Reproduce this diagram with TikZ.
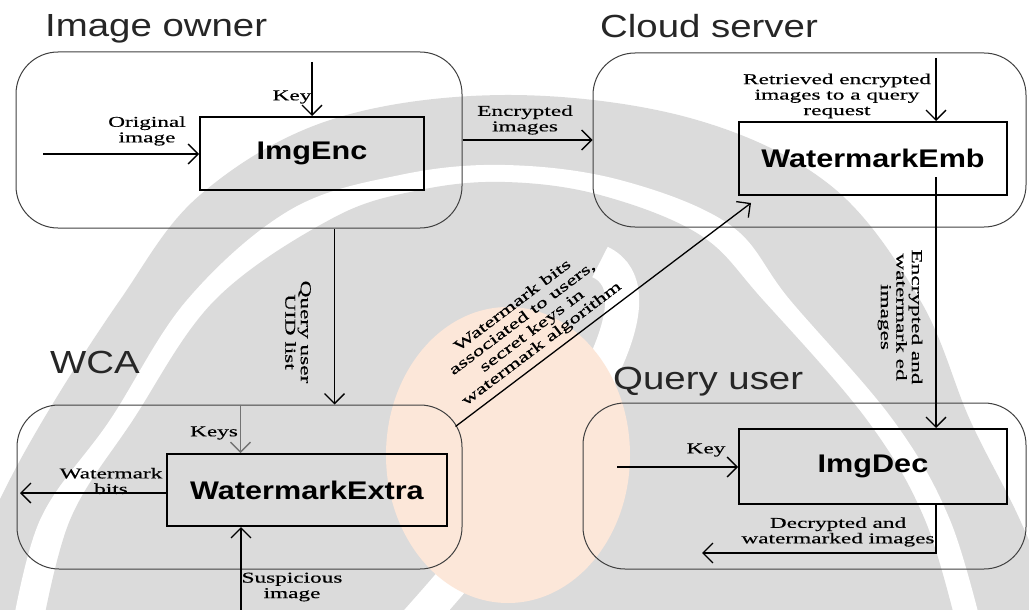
\documentclass[tikz,border=0pt]{standalone}
\usepackage{fontspec}
\setmainfont{Liberation Serif}[FakeStretch=1.55,FakeBold=0.4]
\newfontfamily\sansfam{Liberation Sans}[FakeStretch=1.2]
\usetikzlibrary{arrows.meta,calc}
\definecolor{wmgray}{gray}{0.86}
\definecolor{wmorange}{RGB}{252,231,217}
\begin{document}
\begin{tikzpicture}[x=1pt,y=-1pt,
  grp/.style={draw=black!75, line width=1pt, rounded corners=42pt, inner sep=0pt},
  proc/.style={draw=black, line width=2pt, font=\sansfam\bfseries\fontsize{25.5}{28}\selectfont, inner sep=0pt},
  ttl/.style={font=\sansfam\fontsize{32}{36}\selectfont, text=black!85, anchor=base west, inner sep=0pt},
  lbl/.style={font=\fontsize{15}{15.5}\selectfont, align=center, inner sep=0pt},
  arr/.style={line width=1.3pt, -{Straight Barb[length=10pt,width=20pt]}},
]
\useasboundingbox (0,0) rectangle (1029,610);
% faint background watermark
\begin{scope}
\clip (0,0) rectangle (1029,610);
\fill[wmgray] plot[smooth, tension=0.6] coordinates {(-60,640) (-10,520) (43,420) (120,300) (200,195) (330,120) (505,95) (690,118) (830,185) (920,300) (970,420) (1020,520) (1070,640)} -- cycle;
\fill[white] plot[smooth, tension=0.6] coordinates {(10,640) (40,520) (110,420) (187,300) (290,210) (400,175) (505,165) (620,180) (730,225) (790,300) (893,420) (950,520) (985,640)} -- cycle;
\fill[wmgray] plot[smooth, tension=0.6] coordinates {(40,640) (70,520) (133,420) (215,300) (333,218) (420,190) (505,182) (600,195) (700,235) (763,300) (867,420) (925,520) (960,640)} -- cycle;
\draw[white, line width=34pt] (600,262) .. controls (660,290) and (600,420) .. (400,640);
\fill[wmorange] (508,455) ellipse [x radius=122pt, y radius=148pt];
\end{scope}

% group boxes
\node[grp, minimum width=446pt, minimum height=176pt] (io) at (239,140) {};
\node[grp, minimum width=433pt, minimum height=174pt] (cs) at (809.5,140) {};
\node[grp, minimum width=445pt, minimum height=164pt] (wca) at (239.5,487) {};
\node[grp, minimum width=443pt, minimum height=166pt] (qu) at (804.5,486) {};

% titles
\node[ttl] (t1) at (45,37) {Image owner};
\node[ttl] (t2) at (600,38) {Cloud server};
\node[ttl] (t3) at (50,373) {WCA};
\node[ttl] (t4) at (613,389) {Query user};

% process boxes
\node[proc, minimum width=224pt, minimum height=73pt] (enc) at (312,153.5) {ImgEnc};
\node[proc, minimum width=268pt, minimum height=73pt] (emb) at (873,158.5) {WatermarkEmb};
\node[proc, minimum width=280pt, minimum height=72pt] (ext) at (307,490) {WatermarkExtra};
\node[proc, minimum width=268pt, minimum height=75pt] (dec) at (873,466.5) {ImgDec};

% Image owner
\coordinate (k1) at (312,62);
\draw[arr] (k1) -- (enc.north);
\node[lbl] (lk1) at (292,97) {Key};
\coordinate (o1) at (43,154);
\draw[arr] (o1) -- (o1 -| enc.west);
\node[lbl] (lo) at (147,131) {Original\\image};

% to cloud
\draw[arr] (io.east) -- (cs.west);
\node[lbl] (le) at (525,120) {Encrypted\\images};

% cloud server
\coordinate (r1) at (936,58);
\draw[arr] (r1) -- (r1 |- emb.north);
\node[lbl] (lr) at (837,96) {Retrieved encrypted\\images to a query\\request};

\coordinate (e1) at (936,177);
\draw[arr] (e1) -- (e1 |- dec.north);
\node[lbl, rotate=-90] (lew) at (900,317) {Encrypted and\\watermark ed\\images};

% owner to WCA
\path (io.south west) ++(319,0) coordinate (q1);
\draw[arr] (q1) -- (q1 |- wca.north);
\node[lbl, rotate=-90] (lq) at (298,332) {Query user\\UID list};

% WCA
\path (wca.north west) ++(224,0) coordinate (k2);
\draw[arr, draw=black!55] (k2) -- (k2 |- ext.north);
\node[lbl] (lk2) at (214,433) {Keys};
\coordinate (w1) at (20,493);
\draw[arr] (ext.west |- w1) -- (w1);
\node[lbl] (lw) at (111,481) {Watermark\\bits};
\coordinate (s1) at (241,610);
\draw[arr] (s1) -- (s1 |- ext.south);
\node[lbl] (ls) at (292,587) {Suspicious\\image};

% WCA to cloud
\draw[arr] ($(wca.north east)+(-7,22)$) -- node[lbl, font=\fontsize{15}{16}\selectfont, sloped, above=6pt, pos=0.32] (lwb) {Watermark bits\\associated to users,\\secret keys in\\watermark algorithm} ($(emb.south west)+(13,7)$);

% Query user
\coordinate (k3) at (617,467);
\draw[arr] (k3) -- (k3 -| dec.west);
\node[lbl] (lk3) at (706,450) {Key};
\coordinate (d1) at (702,553);
\draw[arr] (dec.south -| e1) |- (d1);
\node[lbl] (ld) at (838,532) {Decrypted and\\watermarked images};
\end{tikzpicture}
\end{document}
